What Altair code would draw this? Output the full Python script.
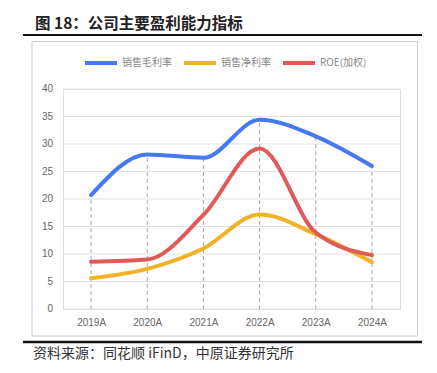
import altair as alt
import pandas as pd

years = ["2019A", "2020A", "2021A", "2022A", "2023A", "2024A"]
gross_margin = [20.7, 28.1, 27.5, 34.4, 31.4, 26.0]
net_margin = [5.6, 7.3, 11.0, 17.2, 13.6, 8.5]
roe = [8.6, 9.0, 17.1, 29.2, 13.9, 9.8]
series_names = ["销售毛利率", "销售净利率", "ROE(加权)"]
colors = ["#4479f2", "#f2b126", "#e05a57"]
y_ticks = [0, 5, 10, 15, 20, 25, 30, 35, 40]

rows = []
for name, vals in zip(series_names, [gross_margin, net_margin, roe]):
    for yr, v in zip(years, vals):
        rows.append({"year": yr, "series": name, "value": v})
df = pd.DataFrame(rows)
df_max = pd.DataFrame({
    "year": years,
    "top": [max(a, b, c) for a, b, c in zip(gross_margin, net_margin, roe)],
    "value": [0] * len(years),
})
df_ticks = pd.DataFrame({"value": y_ticks, "label": [str(t) for t in y_ticks]})

W, H = 337, 220
FONT = "Liberation Sans"
CJK = "Noto Sans CJK SC"

xscale = alt.Scale(type="point", padding=0.5, domain=years)
yscale = alt.Scale(domain=[0, 40], nice=False)

grid = alt.Chart(df_ticks).mark_rule(color="#e2e2e2", strokeWidth=1).encode(
    y=alt.Y("value:Q", scale=yscale, axis=None),
    x=alt.value(0), x2=alt.value(W),
)
ylabels = alt.Chart(df_ticks).mark_text(
    align="right", baseline="middle", fontSize=10, font=FONT, color="#666666"
).encode(
    y=alt.Y("value:Q", scale=yscale, axis=None),
    x=alt.value(-10),
    text="label:N",
)

rules = alt.Chart(df_max).mark_rule(color="#a8a8a8", strokeDash=[4, 3], strokeWidth=1).encode(
    x=alt.X("year:O", scale=xscale, title=None),
    y=alt.Y("value:Q", scale=yscale, axis=None),
    y2="top:Q",
)

lines = alt.Chart(df).mark_line(interpolate="monotone", strokeWidth=4, strokeCap="round").encode(
    x=alt.X("year:O", scale=xscale, title=None),
    y=alt.Y("value:Q", scale=yscale, axis=None),
    color=alt.Color("series:N", scale=alt.Scale(domain=series_names, range=colors),
                    legend=alt.Legend(title=None, orient="none", direction="horizontal",
                                      legendX=20, legendY=-44,
                                      symbolType="stroke", symbolSize=1024,
                                      symbolStrokeWidth=4, labelFont=CJK,
                                      labelFontSize=10, labelColor="#888888",
                                      labelOffset=3, columnPadding=4)),
)

def txt(s, x, y, size, bold=False, font=CJK, color="#222222"):
    return alt.Chart(pd.DataFrame({"t": [s]})).mark_text(
        align="left", baseline="middle", fontSize=size,
        fontWeight="bold" if bold else "normal", font=font, color=color
    ).encode(text="t:N", x=alt.value(x), y=alt.value(y))

def hline(x1, x2, y, w, color):
    return alt.Chart(pd.DataFrame({"a": [0]})).mark_rule(color=color, strokeWidth=w).encode(
        x=alt.value(x1), x2=alt.value(x2), y=alt.value(y))

box = alt.Chart(pd.DataFrame({"a": [0]})).mark_rect(
    fill=None, stroke="#cccccc", strokeWidth=1).encode(
    x=alt.value(32 - 63), x2=alt.value(417.5 - 63), y=alt.value(41.5 - 89), y2=alt.value(336 - 89))

title = txt("图 18：公司主要盈利能力指标", 35 - 63, 23.5 - 89, 15.5, bold=True)
source = txt("资料来源：同花顺 iFinD，中原证券研究所", 33 - 63, 354 - 89, 14, color="#333333")

chart = alt.layer(
    box, grid, ylabels, rules, lines, title, source,
    hline(23 - 63, 427 - 63, 35 - 89, 2, "#111111"),
    hline(0 - 63, 4 - 63, 35 - 89, 2, "#111111"),
    hline(23 - 63, 427 - 63, 342 - 89, 2.5, "#111111"),
    hline(0 - 63, 4 - 63, 342 - 89, 2.5, "#111111"),
).properties(
    width=W, height=H,
    autosize=alt.AutoSizeParams(type="none"),
    padding={"left": 55, "top": 81, "right": 22, "bottom": 60},
).configure_view(stroke=None).configure(background="white").configure_axis(
    ticks=False, domain=False, labelColor="#666666", labelFontSize=10, labelFont=FONT,
    grid=False
).configure_axisX(labelAngle=0, labelPadding=8)

chart.save("out.html", embed_options={"renderer": "svg", "actions": False})
